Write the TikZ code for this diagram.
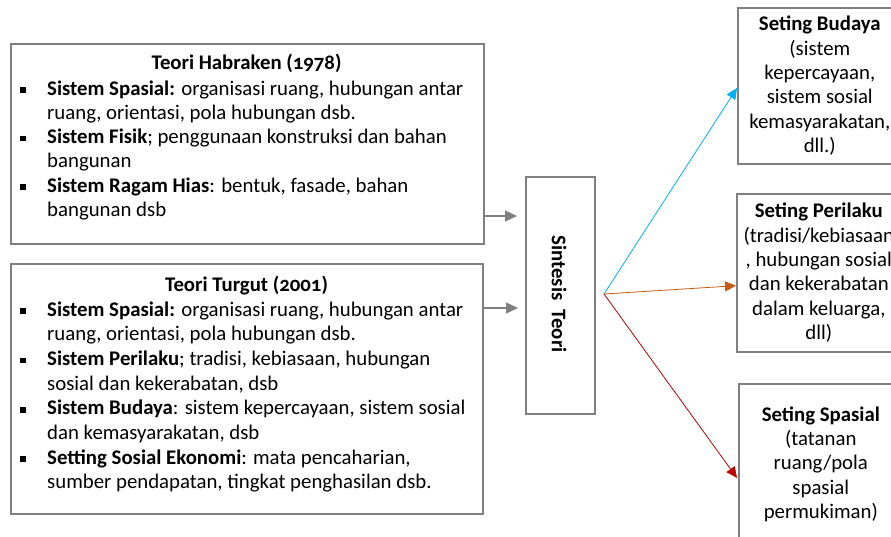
\documentclass[tikz,border=0pt]{standalone}
\usepackage{fontspec}
\setmainfont{Carlito}[Numbers=OldStyle]
\usetikzlibrary{arrows.meta,calc}
\definecolor{boxgray}{RGB}{128,128,128}
\definecolor{cblue}{RGB}{0,176,240}
\definecolor{corange}{RGB}{197,90,17}
\definecolor{cred}{RGB}{192,0,0}
\newcommand{\myfont}{\fontsize{20.8}{24.3}\selectfont}
\tikzset{
 frame/.style={draw=boxgray, line width=1.6pt, anchor=north west, inner sep=0pt},
 txt/.style={anchor=base west, inner sep=0pt, font=\myfont},
 ttl/.style={anchor=base, inner sep=0pt, font=\myfont\bfseries},
 bul/.style={fill=black, minimum size=5.5pt, inner sep=0pt},
 garrow/.style={draw=boxgray, line width=1.4pt, -{Triangle[length=12pt,width=11pt]}},
 sbox/.style={draw=boxgray, line width=1.6pt, anchor=north west, minimum width=164pt, minimum height=157pt, align=center, inner xsep=1pt, font=\myfont},
 farrow/.style={line width=0.8pt, -{Triangle[length=11pt,width=10pt]}}
}
\begin{document}
\begin{tikzpicture}[x=1pt,y=-1pt]
\clip (0,0) rectangle (891,536);
\fill[white] (0,0) rectangle (891,536);
% left box 1
\node[frame, minimum width=473pt, minimum height=200pt] (hab) at (10,43) {};
\node[ttl] (habt) at (246.5,69) {Teori Habraken (1978)};
\node[bul] (hb1) at (22.75,90) {};
\node[txt] (h1) at (47,95) {\textbf{Sistem Spasial:} organisasi ruang, hubungan antar};
\node[txt] (h2) at (47,119.3) {ruang, orientasi, pola hubungan dsb.};
\node[bul] (hb2) at (22.75,138.6) {};
\node[txt] (h3) at (47,143.6) {\textbf{Sistem Fisik}; penggunaan konstruksi dan bahan};
\node[txt] (h4) at (47,167.9) {bangunan};
\node[bul] (hb3) at (22.75,187.2) {};
\node[txt] (h5) at (47,192.2) {\textbf{Sistem Ragam Hias}: bentuk, fasade, bahan};
\node[txt] (h6) at (47,216.5) {bangunan dsb};
% left box 2
\node[frame, minimum width=472pt, minimum height=250pt] (tur) at (10,263) {};
\node[ttl] (turt) at (246.5,291) {Teori Turgut (2001)};
\node[bul] (tb1) at (22.75,311) {};
\node[txt] (t1) at (47,316) {\textbf{Sistem Spasial:} organisasi ruang, hubungan antar};
\node[txt] (t2) at (47,340.7) {ruang, orientasi, pola hubungan dsb.};
\node[bul] (tb2) at (22.75,360.4) {};
\node[txt] (t3) at (47,365.4) {\textbf{Sistem Perilaku}; tradisi, kebiasaan, hubungan};
\node[txt] (t4) at (47,390.1) {sosial dan kekerabatan, dsb};
\node[bul] (tb3) at (22.75,409.8) {};
\node[txt] (t5) at (47,414.8) {\textbf{Sistem Budaya}: sistem kepercayaan, sistem sosial};
\node[txt] (t6) at (47,439.5) {dan kemasyarakatan, dsb};
\node[bul] (tb4) at (22.75,459.2) {};
\node[txt] (t7) at (47,464.2) {\textbf{Setting Sosial Ekonomi}: mata pencaharian,};
\node[txt] (t8) at (47,488.9) {sumber pendapatan, tingkat penghasilan dsb.};
% synthesis box
\node[frame, minimum width=69pt, minimum height=237pt] (sin) at (525,176) {};
\node[rotate=-90, inner sep=0pt, font=\myfont\bfseries] (sint) at (559,294) {Sintesis~~Teori};
% gray arrows
\coordinate (a1s) at (483,216);
\coordinate (a1e) at (517,216);
\coordinate (a2s) at (482,308);
\coordinate (a2e) at (518,308);
\draw[garrow] (a1s) -- (a1e);
\draw[garrow] (a2s) -- (a2e);
% right boxes
\node[sbox, minimum height=156pt] (bud) at (737,7) {\textbf{Seting Budaya}\\(sistem\\kepercayaan,\\sistem sosial\\kemasyarakatan,\\dll.)};
\node[sbox, minimum height=158pt] (per) at (736,193) {\textbf{Seting Perilaku}\\(tradisi/kebiasaan\\, hubungan sosial\\dan kekerabatan\\dalam keluarga,\\dll)};
\node[sbox, minimum height=161pt] (spa) at (738,383) {\textbf{Seting Spasial}\\(tatanan\\ruang/pola\\spasial\\permukiman)};
% fan arrows
\coordinate (fan) at (604,294);
\coordinate (fb) at (737,88);
\coordinate (fo) at (736,285.7);
\coordinate (fr) at (737,478);
\draw[farrow, cblue] (fan) -- (fb);
\draw[farrow, corange] (fan) -- (fo);
\draw[farrow, cred] (fan) -- (fr);
\end{tikzpicture}
\end{document}
